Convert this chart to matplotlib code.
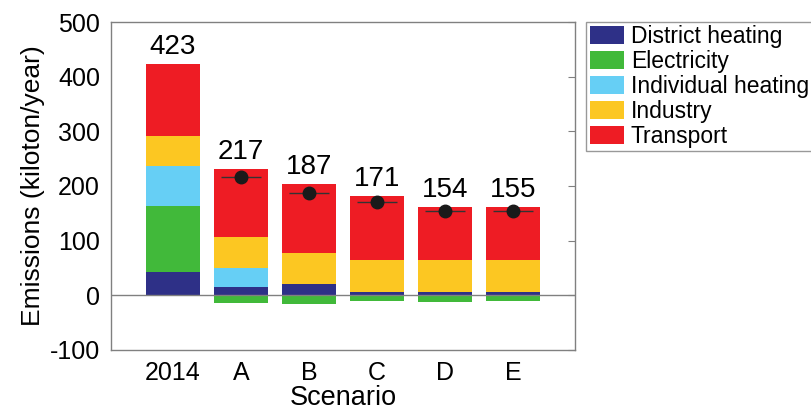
import numpy as np
import matplotlib.pyplot as plt

plt.rcParams['font.family'] = ['Liberation Sans', 'DejaVu Sans']
plt.rcParams['axes.unicode_minus'] = False

scenarios = ['2014', 'A', 'B', 'C', 'D', 'E']
district_heating = [43, 16, 21, 7, 7, 7]
electricity = [120, -14, -16, -11, -13, -11]
individual_heating = [74, 34, 0, 0, 0, 0]
industry = [55, 56, 57, 57, 57, 57]
transport = [131, 125, 125, 118, 97, 97]
net_total = [423, 217, 187, 171, 154, 155]

sectors = ['District heating', 'Electricity', 'Individual heating', 'Industry', 'Transport']
colors = ['#2e3087', '#41b93a', '#66cff5', '#fcc722', '#ee1c24']
values = [district_heating, electricity, individual_heating, industry, transport]

grey = '#808080'
x = np.arange(1, len(scenarios) + 1)

fig = plt.figure(figsize=(8.12, 4.12), dpi=100)
ax = fig.add_axes([0.1367, 0.1505, 0.5714, 0.7961])

pos_bottom = np.zeros(len(x))
neg_bottom = np.zeros(len(x))
for name, col, vals in zip(sectors, colors, values):
    vals = np.array(vals, dtype=float)
    bottom = np.where(vals >= 0, pos_bottom, neg_bottom)
    ax.bar(x, vals, width=0.8, bottom=bottom, color=col, label=name, zorder=2)
    pos_bottom += np.clip(vals, 0, None)
    neg_bottom += np.clip(vals, None, 0)

ax.axhline(0, color=grey, linewidth=1, zorder=3)

# net emissions marker for the scenarios
ax.errorbar(x[1:], net_total[1:], xerr=0.3, fmt='o', color='#1a1a1a',
            ecolor='#333333', elinewidth=1, markersize=9, capsize=0, zorder=4)

for xi, top, lab in zip(x, pos_bottom, net_total):
    ax.annotate(str(lab), (xi, top), xytext=(0, 3), textcoords='offset points',
                ha='center', va='bottom', fontsize=20)

ax.set_xlim(0.09, 6.91)
ax.set_ylim(-100, 500)
ax.set_yticks([-100, 0, 100, 200, 300, 400, 500])
ax.set_xticks(x)
ax.set_xticklabels(scenarios)
ax.tick_params(axis='x', length=0, labelsize=18, pad=8)
ax.tick_params(axis='y', left=False, right=True, direction='in', length=5,
               color=grey, labelsize=18, pad=8)
for s in ax.spines.values():
    s.set_color(grey)
    s.set_linewidth(1)

ax.set_xlabel('Scenario', fontsize=19.5, labelpad=0)
ax.set_ylabel('Emissions (kiloton/year)', fontsize=19, labelpad=3)

leg = fig.legend(loc='upper left', bbox_to_anchor=(0.722, 0.947), fontsize=16.5,
                 frameon=True, fancybox=False, borderaxespad=0, borderpad=0.15,
                 labelspacing=0.08, handlelength=1.5, handleheight=0.85,
                 handletextpad=0.3)
leg.get_frame().set_edgecolor(grey)
leg.get_frame().set_linewidth(1)

fig.savefig('out.png', dpi=100)
